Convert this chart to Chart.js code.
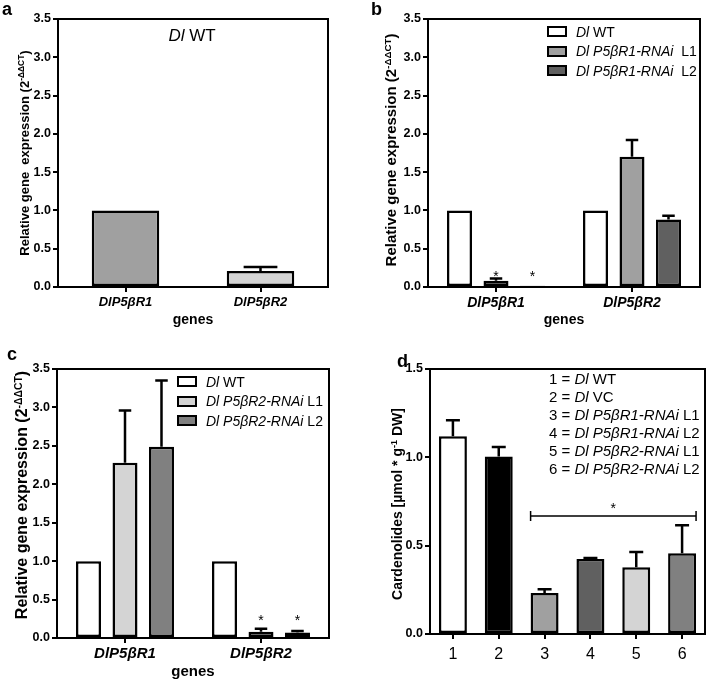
<!DOCTYPE html>
<html><head><meta charset="utf-8">
<script src="https://cdn.jsdelivr.net/npm/chart.js@4.4.0/dist/chart.umd.min.js"></script>
<style>
html,body{margin:0;padding:0;background:#fff;}
body{width:708px;height:681px;position:relative;overflow:hidden;font-family:"Liberation Sans",Arial,Helvetica,sans-serif;color:#000;}
.panel{position:absolute;}
.panel canvas{position:absolute;left:0;top:0;}
.ytitle{position:absolute;white-space:pre;font-weight:bold;transform:translate(-50%,-50%) rotate(-90deg);line-height:1;}
.letter{position:absolute;font-weight:bold;font-size:18px;line-height:1;}
.ptitle{position:absolute;white-space:pre;line-height:1;transform:translate(-50%,-50%);}
sup{font-size:65%;vertical-align:0.5em;line-height:0;}
.leg{position:absolute;}
.leg .row{display:flex;align-items:center;white-space:pre;}
.sw{display:inline-block;box-sizing:border-box;border:2px solid #000;}
</style></head><body>

<div class="panel" style="left:0;top:0;width:354px;height:340px;"><canvas id="ca" width="354" height="340"></canvas></div>
<div class="panel" style="left:354px;top:0;width:354px;height:340px;"><canvas id="cb" width="354" height="340"></canvas></div>
<div class="panel" style="left:0;top:340px;width:354px;height:341px;"><canvas id="cc" width="354" height="341"></canvas></div>
<div class="panel" style="left:354px;top:340px;width:354px;height:341px;"><canvas id="cd" width="354" height="341"></canvas></div>

<div class="letter" style="left:2px;top:0px;">a</div>
<div class="letter" style="left:371px;top:0px;">b</div>
<div class="letter" style="left:7px;top:345px;">c</div>
<div class="letter" style="left:397px;top:352px;">d</div>

<div class="ytitle" style="left:24px;top:153px;font-size:13px;">Relative gene  expression (2<sup>-ΔΔCT</sup>)</div>
<div class="ytitle" style="left:390px;top:150px;font-size:15px;">Relative gene expression (2<sup>-ΔΔCT</sup>)</div>
<div class="ytitle" style="left:22px;top:495px;font-size:16px;">Relative gene expression (2<sup>-ΔΔCT</sup>)</div>
<div class="ytitle" style="left:397px;top:504px;font-size:14px;">Cardenolides [µmol * g<sup>-1</sup> DW]</div>

<div class="ptitle" style="left:192px;top:35px;font-size:17px;"><i>Dl</i> WT</div>

<div class="leg" id="legb" style="left:547px;top:22px;font-size:14px;"></div>
<div class="leg" id="legc" style="left:177px;top:372px;font-size:14px;"></div>
<div class="leg" id="legd" style="left:549px;top:369px;font-size:15px;"></div>

<script>
// ---------- data ----------
const geneLabels = ["DlP5βR1", "DlP5βR2"];
const exprTickLabels = ["0.0","0.5","1.0","1.5","2.0","2.5","3.0","3.5"];
const cardTickLabels = ["0.0","0.5","1.0","1.5"];

// panel a
const aValues = [1.0, 0.21];
const aErrors = [0, 0.05];
const aColors = ["#a0a0a0", "#d4d4d4"];

// panel b
const bNames = [["Dl", " WT"], ["Dl P5βR1-RNAi", "  L1"], ["Dl P5βR1-RNAi", "  L2"]];
const bWT = [1.0, 1.0];
const bL1 = [0.08, 1.70];
const bL2 = [0.015, 0.88];
const bWTErr = [0, 0];
const bL1Err = [0.03, 0.22];
const bL2Err = [0, 0.05];
const bStarWT = [false, false];
const bStarL1 = [true, false];
const bStarL2 = [true, false];
const bColors = ["#ffffff", "#a0a0a0", "#606060"];

// panel c
const cNames = [["Dl", " WT"], ["Dl P5βR2-RNAi", " L1"], ["Dl P5βR2-RNAi", " L2"]];
const cWT = [1.0, 1.0];
const cL1 = [2.28, 0.08];
const cL2 = [2.49, 0.07];
const cWTErr = [0, 0];
const cL1Err = [0.68, 0.04];
const cL2Err = [0.86, 0.02];
const cStarWT = [false, false];
const cStarL1 = [false, true];
const cStarL2 = [false, true];
const cColors = ["#ffffff", "#d4d4d4", "#808080"];

// panel d
const dCategories = ["1", "2", "3", "4", "5", "6"];
const dLines = [["Dl", " WT"], ["Dl", " VC"], ["Dl P5βR1-RNAi", " L1"], ["Dl P5βR1-RNAi", " L2"], ["Dl P5βR2-RNAi", " L1"], ["Dl P5βR2-RNAi", " L2"]];
const dValues = [1.12, 1.005, 0.232, 0.424, 0.378, 0.457];
const dErrors = [0.09, 0.053, 0.022, 0.006, 0.086, 0.158];
const dColors = ["#ffffff", "#000000", "#a0a0a0", "#606060", "#d4d4d4", "#808080"];
const dSigFrom = 2, dSigTo = 5, dSigLevel = 0.668;

// ---------- drawing ----------
const FONT = '"Liberation Sans", Arial, Helvetica, sans-serif';
Chart.defaults.font.family = FONT;
Chart.defaults.color = '#000';

const extras = {
  id: 'extras',
  afterDatasetsDraw(chart, args, opts) {
    const ctx = chart.ctx, ys = chart.scales.y, area = chart.chartArea;
    ctx.save();
    ctx.strokeStyle = '#000';
    ctx.fillStyle = '#000';
    chart.data.datasets.forEach((ds, di) => {
      const meta = chart.getDatasetMeta(di);
      meta.data.forEach((el, i) => {
        const err = ds.errors ? ds.errors[i] : 0;
        if (err > 0) {
          const top = ys.getPixelForValue(ds.data[i] + err);
          const hw = el.width / 4;
          ctx.lineWidth = 2.5;
          ctx.beginPath();
          ctx.moveTo(el.x, el.y); ctx.lineTo(el.x, top);
          ctx.moveTo(el.x - hw, top); ctx.lineTo(el.x + hw, top);
          ctx.stroke();
        }
        if (ds.stars && ds.stars[i]) {
          ctx.font = '14px ' + FONT;
          ctx.textAlign = 'center';
          ctx.textBaseline = 'alphabetic';
          ctx.fillText('*', el.x, ys.getPixelForValue(opts.starValue) + 8);
        }
      });
    });
    if (opts.bracket) {
      const m = chart.getDatasetMeta(0);
      const e1 = m.data[opts.bracket.from], e2 = m.data[opts.bracket.to];
      const x1 = e1.x - e1.width / 2, x2 = e2.x + e2.width / 2;
      const y = ys.getPixelForValue(opts.bracket.level);
      ctx.lineWidth = 1.5;
      ctx.beginPath();
      ctx.moveTo(x1, y); ctx.lineTo(x2, y);
      ctx.moveTo(x1, y - 5); ctx.lineTo(x1, y + 5);
      ctx.moveTo(x2, y - 5); ctx.lineTo(x2, y + 5);
      ctx.stroke();
      ctx.font = '14px ' + FONT;
      ctx.textAlign = 'center';
      ctx.textBaseline = 'alphabetic';
      ctx.fillText('*', (x1 + x2) / 2, y - 3);
    }
    ctx.lineWidth = 2;
    ctx.strokeRect(area.left, area.top, area.right - area.left, area.bottom - area.top);
    ctx.restore();
  }
};

function makeChart(id, c) {
  return new Chart(document.getElementById(id), {
    type: 'bar',
    data: {labels: c.labels, datasets: c.datasets.map(d => Object.assign({
      borderColor: '#000', borderWidth: 2.5, borderSkipped: false,
      categoryPercentage: c.catPct, barPercentage: c.barPct
    }, d))},
    options: {
      responsive: false, animation: false, devicePixelRatio: 1,
      layout: {padding: {left: 0, top: c.padTop, right: c.padRight, bottom: 0}},
      plugins: {legend: {display: false}, tooltip: {enabled: false},
        extras: {starValue: c.starValue, bracket: c.bracket}},
      scales: {
        x: {
          grid: {display: true, drawOnChartArea: false, drawTicks: true, tickLength: 5, color: '#000', lineWidth: 2, offset: false},
          border: {display: false},
          ticks: {font: c.xFont, color: '#000', padding: c.xPad, maxRotation: 0, autoSkip: false},
          title: c.xTitle ? {display: true, text: c.xTitle, font: {size: c.xTitleSize, weight: 'bold', lineHeight: 1.2}, color: '#000', padding: {top: 0, bottom: c.xTitlePad}} : {display: false},
          afterFit: s => { s.height = c.xHeight; }
        },
        y: {
          min: 0, max: c.yMax,
          grid: {display: true, drawOnChartArea: false, drawTicks: true, tickLength: 5, color: '#000', lineWidth: 2},
          border: {display: false},
          ticks: {stepSize: 0.5, font: {size: 12.5, weight: 'bold'}, color: '#000', padding: 2,
            callback: (v, i) => c.yTicks[i]},
          afterFit: s => { s.width = c.yWidth; }
        }
      }
    },
    plugins: [extras]
  });
}

makeChart('ca', {
  labels: geneLabels,
  datasets: [{label: 'Dl WT', data: aValues, errors: aErrors, backgroundColor: aColors}],
  catPct: 1.0, barPct: 0.5, padTop: 19, padRight: 26, yWidth: 58, xHeight: 53,
  yMax: 3.5, yTicks: exprTickLabels, xFont: {size: 13, weight: 'bold', style: 'italic'}, xPad: 3,
  xTitle: 'genes', xTitleSize: 14, xTitlePad: 11
});

makeChart('cb', {
  labels: geneLabels,
  datasets: [
    {label: bNames[0].join(''), data: bWT, errors: bWTErr, stars: bStarWT, backgroundColor: bColors[0]},
    {label: bNames[1].join(''), data: bL1, errors: bL1Err, stars: bStarL1, backgroundColor: bColors[1]},
    {label: bNames[2].join(''), data: bL2, errors: bL2Err, stars: bStarL2, backgroundColor: bColors[2]}
  ],
  catPct: 0.805, barPct: 0.685, padTop: 19, padRight: 8, yWidth: 74, xHeight: 53,
  yMax: 3.5, yTicks: exprTickLabels, xFont: {size: 14, weight: 'bold', style: 'italic'}, xPad: 3,
  xTitle: 'genes', xTitleSize: 14, xTitlePad: 11, starValue: 0.18
});

makeChart('cc', {
  labels: geneLabels,
  datasets: [
    {label: cNames[0].join(''), data: cWT, errors: cWTErr, stars: cStarWT, backgroundColor: cColors[0]},
    {label: cNames[1].join(''), data: cL1, errors: cL1Err, stars: cStarL1, backgroundColor: cColors[1]},
    {label: cNames[2].join(''), data: cL2, errors: cL2Err, stars: cStarL2, backgroundColor: cColors[2]}
  ],
  catPct: 0.805, barPct: 0.685, padTop: 29, padRight: 25, yWidth: 57, xHeight: 43,
  yMax: 3.5, yTicks: exprTickLabels, xFont: {size: 15, weight: 'bold', style: 'italic'}, xPad: 2,
  xTitle: 'genes', xTitleSize: 15, xTitlePad: 0, starValue: 0.27
});

makeChart('cd', {
  labels: dCategories,
  datasets: [{label: 'Cardenolides', data: dValues, errors: dErrors, backgroundColor: dColors}],
  catPct: 1.0, barPct: 0.61, padTop: 29, padRight: 3, yWidth: 76, xHeight: 47,
  yMax: 1.5, yTicks: cardTickLabels, xFont: {size: 16}, xPad: 6,
  xTitle: null, bracket: {from: dSigFrom, to: dSigTo, level: dSigLevel}
});

// ---------- HTML legends ----------
function legend(id, names, colors, rowH) {
  const box = document.getElementById(id);
  names.forEach((n, i) => {
    const r = document.createElement('div');
    r.className = 'row'; r.style.height = rowH + 'px';
    r.innerHTML = '<span class="sw" style="width:20px;height:11px;background:' + colors[i] + ';margin-right:9px"></span><i>' + n[0] + '</i>' + n[1];
    box.appendChild(r);
  });
}
legend('legb', bNames, bColors, 19.5);
legend('legc', cNames, cColors, 19.5);
(function () {
  const box = document.getElementById('legd');
  dLines.forEach((n, i) => {
    const r = document.createElement('div');
    r.className = 'row'; r.style.height = '18px';
    r.innerHTML = dCategories[i] + ' = <i>' + n[0] + '</i>' + n[1];
    box.appendChild(r);
  });
})();
</script>
</body></html>
